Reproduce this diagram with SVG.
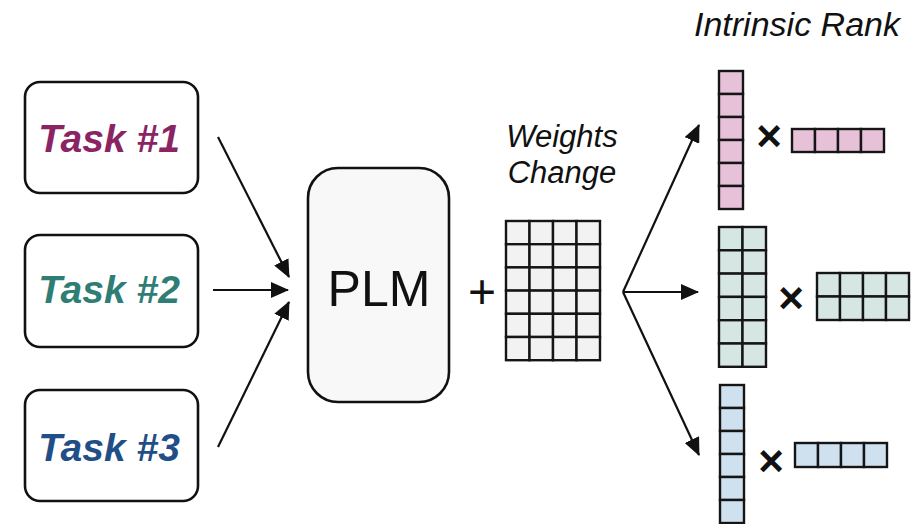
<svg xmlns="http://www.w3.org/2000/svg" width="920" height="524" viewBox="0 0 920 524">
  <style>
    .box { fill: #ffffff; stroke: #111111; stroke-width: 2.6; }
    .plm { fill: #f8f8f8; stroke: #111111; stroke-width: 2.6; }
    .task { font-family: "Liberation Sans", Arial, sans-serif; font-size: 39px; font-weight: bold; font-style: italic; text-anchor: middle; }
    .label { font-family: "Liberation Sans", Arial, sans-serif; font-size: 31px; font-style: italic; fill: #111111; }
    .title { font-size: 34px; }
    .big { font-family: "Liberation Sans", Arial, sans-serif; fill: #111111; text-anchor: middle; }
    .cell { stroke: #151515; stroke-width: 2.4; }
    .grey { fill: #f2f2f2; }
    .pink { fill: #e7c1d7; }
    .teal { fill: #d6e6e3; }
    .blue { fill: #cfe0ef; }
    .conn { stroke: #111111; stroke-width: 2.2; fill: none; marker-end: url(#arrow); }
    .times { font-family: "Liberation Sans", Arial, sans-serif; font-size: 44px; font-weight: bold; fill: #111111; text-anchor: middle; }
  </style>
  <defs>
    <marker id="arrow" markerUnits="userSpaceOnUse" markerWidth="18" markerHeight="16" refX="17" refY="8" orient="auto">
      <path d="M0,0 L18,8 L0,16 Z" fill="#111111"/>
    </marker>
  </defs>

  <rect width="920" height="524" fill="#ffffff"/>

  <!-- task inputs -->
  <g id="task1">
    <rect class="box" x="25" y="82" width="173" height="111" rx="15"/>
    <text class="task" x="109" y="152" fill="#8b2462">Task #1</text>
  </g>
  <g id="task2">
    <rect class="box" x="25" y="235" width="173" height="112" rx="15"/>
    <text class="task" x="109" y="303" fill="#2f7e76">Task #2</text>
  </g>
  <g id="task3">
    <rect class="box" x="25" y="390" width="173" height="111" rx="15"/>
    <text class="task" x="109" y="461" fill="#1f4f86">Task #3</text>
  </g>

  <!-- pretrained model -->
  <g id="plm">
    <rect class="plm" x="308" y="168" width="141" height="234" rx="30"/>
    <text class="big" x="379" y="306" font-size="50">PLM</text>
  </g>

  <text id="plus" class="big" x="482" y="308" font-size="48">+</text>

  <!-- full weight update matrix -->
  <g id="weights">
    <text class="label" x="562" y="147" text-anchor="middle">Weights</text>
    <text class="label" x="562" y="183" text-anchor="middle">Change</text>
    <g class="cell grey">
      <rect x="506" y="221" width="23.5" height="23.2"/><rect x="529.5" y="221" width="23.5" height="23.2"/><rect x="553" y="221" width="23.5" height="23.2"/><rect x="576.5" y="221" width="23.5" height="23.2"/>
      <rect x="506" y="244.2" width="23.5" height="23.2"/><rect x="529.5" y="244.2" width="23.5" height="23.2"/><rect x="553" y="244.2" width="23.5" height="23.2"/><rect x="576.5" y="244.2" width="23.5" height="23.2"/>
      <rect x="506" y="267.4" width="23.5" height="23.2"/><rect x="529.5" y="267.4" width="23.5" height="23.2"/><rect x="553" y="267.4" width="23.5" height="23.2"/><rect x="576.5" y="267.4" width="23.5" height="23.2"/>
      <rect x="506" y="290.6" width="23.5" height="23.2"/><rect x="529.5" y="290.6" width="23.5" height="23.2"/><rect x="553" y="290.6" width="23.5" height="23.2"/><rect x="576.5" y="290.6" width="23.5" height="23.2"/>
      <rect x="506" y="313.8" width="23.5" height="23.2"/><rect x="529.5" y="313.8" width="23.5" height="23.2"/><rect x="553" y="313.8" width="23.5" height="23.2"/><rect x="576.5" y="313.8" width="23.5" height="23.2"/>
      <rect x="506" y="337" width="23.5" height="23.2"/><rect x="529.5" y="337" width="23.5" height="23.2"/><rect x="553" y="337" width="23.5" height="23.2"/><rect x="576.5" y="337" width="23.5" height="23.2"/>
    </g>
  </g>

  <text id="rank-title" class="label title" x="694" y="36">Intrinsic Rank</text>

  <!-- rank-1 factors -->
  <g id="lowrank1">
    <g class="cell pink">
      <rect x="719" y="71" width="24" height="23"/><rect x="719" y="94" width="24" height="23"/><rect x="719" y="117" width="24" height="23"/>
      <rect x="719" y="140" width="24" height="23"/><rect x="719" y="163" width="24" height="23"/><rect x="719" y="186" width="24" height="23"/>
      <rect x="792" y="129" width="23" height="23"/><rect x="815" y="129" width="23" height="23"/><rect x="838" y="129" width="23" height="23"/><rect x="861" y="129" width="23" height="23"/>
    </g>
    <text class="times" x="769" y="151">×</text>
  </g>

  <!-- rank-2 factors -->
  <g id="lowrank2">
    <g class="cell teal">
      <rect x="719" y="227" width="23.5" height="23.3"/><rect x="742.5" y="227" width="23.5" height="23.3"/>
      <rect x="719" y="250.3" width="23.5" height="23.3"/><rect x="742.5" y="250.3" width="23.5" height="23.3"/>
      <rect x="719" y="273.6" width="23.5" height="23.3"/><rect x="742.5" y="273.6" width="23.5" height="23.3"/>
      <rect x="719" y="296.9" width="23.5" height="23.3"/><rect x="742.5" y="296.9" width="23.5" height="23.3"/>
      <rect x="719" y="320.2" width="23.5" height="23.3"/><rect x="742.5" y="320.2" width="23.5" height="23.3"/>
      <rect x="719" y="343.5" width="23.5" height="23.3"/><rect x="742.5" y="343.5" width="23.5" height="23.3"/>
      <rect x="817" y="273" width="23" height="23.5"/><rect x="840" y="273" width="23" height="23.5"/><rect x="863" y="273" width="23" height="23.5"/><rect x="886" y="273" width="23" height="23.5"/>
      <rect x="817" y="296.5" width="23" height="23.5"/><rect x="840" y="296.5" width="23" height="23.5"/><rect x="863" y="296.5" width="23" height="23.5"/><rect x="886" y="296.5" width="23" height="23.5"/>
    </g>
    <text class="times" x="791" y="313">×</text>
  </g>

  <!-- rank-1 factors, third task -->
  <g id="lowrank3">
    <g class="cell blue">
      <rect x="720" y="385" width="24" height="23"/><rect x="720" y="408" width="24" height="23"/><rect x="720" y="431" width="24" height="23"/>
      <rect x="720" y="454" width="24" height="23"/><rect x="720" y="477" width="24" height="23"/><rect x="720" y="500" width="24" height="23"/>
      <rect x="795" y="443" width="23" height="24"/><rect x="818" y="443" width="23" height="24"/><rect x="841" y="443" width="23" height="24"/><rect x="864" y="443" width="23" height="24"/>
    </g>
    <text class="times" x="771" y="476">×</text>
  </g>

  <!-- connectors -->
  <g id="connectors">
    <line class="conn" x1="218" y1="137" x2="289" y2="277"/>
    <line class="conn" x1="213" y1="290" x2="288" y2="290"/>
    <line class="conn" x1="218" y1="447" x2="289" y2="302"/>
    <line class="conn" x1="623" y1="292" x2="699" y2="125"/>
    <line class="conn" x1="623" y1="292" x2="698" y2="292"/>
    <line class="conn" x1="623" y1="292" x2="699" y2="455"/>
  </g>
</svg>
